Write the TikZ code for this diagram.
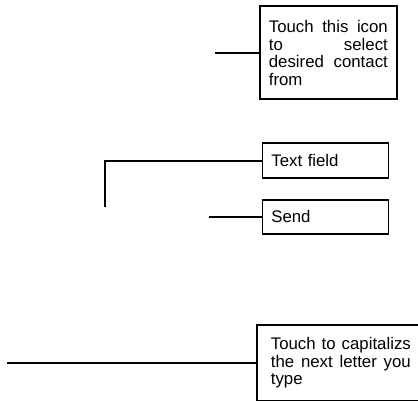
\documentclass[tikz,border=0pt]{standalone}
\usepackage{fontspec}
\setmainfont{Liberation Sans}
\usetikzlibrary{positioning}
\hyphenpenalty=10000
\tolerance=10000
\tikzset{note text/.style={font=\fontsize{16.8}{17.7}\selectfont},
	callout/.style={draw, rectangle, anchor=north west, note text, align=justify},
	field/.style={draw, rectangle, anchor=north west, note text, align=left, text width=108pt, inner xsep=9pt, minimum height=35pt}}

\begin{document}
\begin{tikzpicture}[x=1pt, y=-1pt, line width=1.7pt]
	\useasboundingbox (0,0) rectangle (418,401);
	\node[callout, text width=119pt, inner xsep=9pt, minimum height=93pt] at (259,5.5) (Icon Note) {Touch this icon\linebreak to select\linebreak desired contact\linebreak from};
	\node[field] at (261.5,142.5) (Text Field) {Text field};
	\node[field, minimum height=34pt] at (261.5,199) (Send) {Send};
	\node[callout, text width=140pt, inner xsep=14pt, minimum height=76pt] at (256,324) (Caps Note) {Touch to capitalizs the next letter you type};
	\coordinate (Icon End) at (215,0 |- Icon Note.west);
	\coordinate (Field End) at (105,207);
	\coordinate (Send End) at (209,0 |- Send.west);
	\coordinate (Caps End) at (7,0 |- Caps Note.west);
	\draw (Icon End) -- (Icon Note.west);
	\draw (Text Field.west) -- (Field End |- Text Field.west) -- (Field End);
	\draw (Send End) -- (Send.west);
	\draw (Caps End) -- (Caps Note.west);
\end{tikzpicture}
\end{document}
